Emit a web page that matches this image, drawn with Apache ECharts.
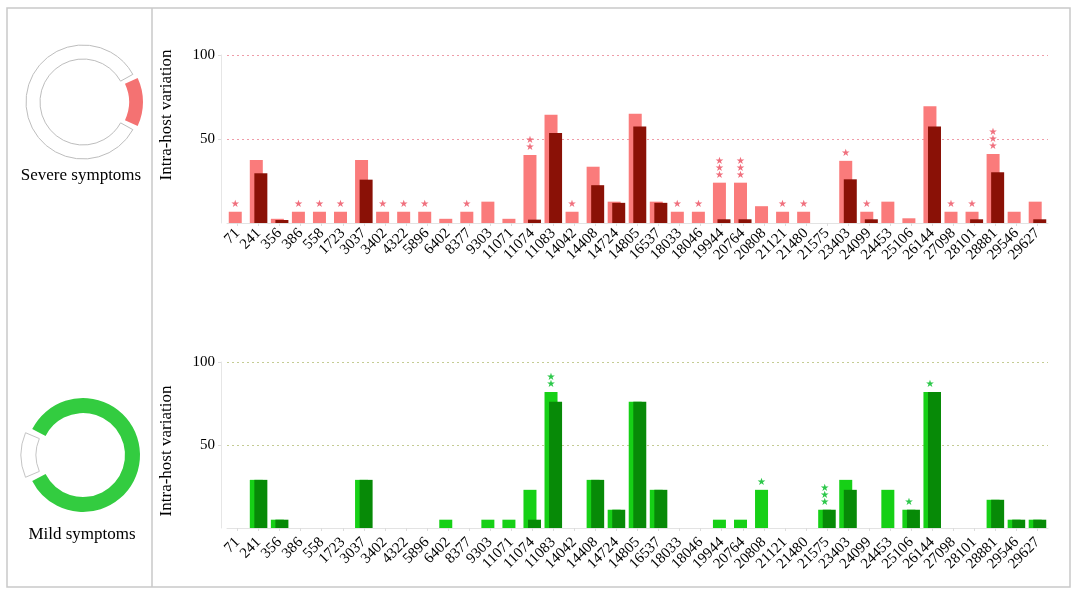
<!DOCTYPE html>
<html>
<head>
<meta charset="utf-8">
<script src="https://cdn.jsdelivr.net/npm/echarts@6/dist/echarts.min.js"></script>
<style>
  html, body { margin: 0; padding: 0; background: #fff; }
  #chart { width: 1074px; height: 594px; }
</style>
</head>
<body>
<div id="chart"></div>
<script>
// genome positions
const categories = ['71', '241', '356', '386', '558', '1723', '3037', '3402', '4322', '5896',
  '6402', '8377', '9303', '11071', '11074', '11083', '14042', '14408', '14724', '14805',
  '16537', '18033', '18046', '19944', '20764', '20808', '21121', '21480', '21575', '23403',
  '24099', '24453', '25106', '26144', '27098', '28101', '28881', '29546', '29627'];

// severe symptoms
const severeLight = [6.7, 37.5, 2.5, 6.7, 6.7, 6.7, 37.5, 6.7, 6.7, 6.7,
  2.5, 6.7, 12.7, 2.5, 40.5, 64.5, 6.7, 33.5, 12.7, 65,
  12.7, 6.7, 6.7, 24, 24, 10, 6.7, 6.7, 0, 37,
  6.7, 12.7, 2.8, 69.5, 6.7, 6.7, 41, 6.7, 12.7];
const severeDark = [0, 29.6, 1.8, 0, 0, 0, 25.8, 0, 0, 0,
  0, 0, 0, 0, 2, 53.5, 0, 22.5, 12, 57.5,
  12, 0, 0, 2.2, 2.2, 0, 0, 0, 0, 26,
  2.2, 0, 0, 57.5, 0, 2.2, 30.2, 0, 2.2];
const severeStars = [1, 0, 0, 1, 1, 1, 0, 1, 1, 1,
  0, 1, 0, 0, 2, 0, 1, 0, 0, 0,
  0, 1, 1, 3, 3, 0, 1, 1, 0, 1,
  1, 0, 0, 0, 1, 1, 3, 0, 0];

// mild symptoms
const mildLight = [0, 29, 5, 0, 0, 0, 29, 0, 0, 0,
  5, 0, 5, 5, 23, 82, 0, 29, 11, 76,
  23, 0, 0, 5, 5, 23, 0, 0, 11, 29,
  0, 23, 11, 82, 0, 0, 17, 5, 5];
const mildDark = [0, 29, 5, 0, 0, 0, 29, 0, 0, 0,
  0, 0, 0, 0, 5, 76, 0, 29, 11, 76,
  23, 0, 0, 0, 0, 0, 0, 0, 11, 23,
  0, 0, 11, 82, 0, 0, 17, 5, 5];
const mildStars = [0, 0, 0, 0, 0, 0, 0, 0, 0, 0,
  0, 0, 0, 0, 0, 2, 0, 0, 0, 0,
  0, 0, 0, 0, 0, 1, 0, 0, 3, 0,
  0, 0, 1, 1, 0, 0, 0, 0, 0];

const yTicks = [0, 50, 100];

const serif = 'Liberation Serif';

function starLabel(stars, color) {
  return {
    show: true,
    position: 'top',
    distance: 4,
    fontFamily: 'DejaVu Sans',
    fontSize: 10,
    lineHeight: 7,
    color: color,
    formatter: p => stars[p.dataIndex] ? Array(stars[p.dataIndex]).fill('★').join('\n') : ''
  };
}

function xAxis(gridIndex, margin) {
  return {
    type: 'category',
    gridIndex: gridIndex,
    data: categories,
    axisLine: { lineStyle: { color: '#e3e3e3', width: 1 } },
    axisTick: { show: true, alignWithLabel: true, length: 3, lineStyle: { color: '#dcdcdc' } },
    axisLabel: { rotate: 45, interval: 0, margin: margin, color: '#000', fontFamily: serif, fontSize: 15 }
  };
}

function yAxis(gridIndex, gridColor) {
  return {
    type: 'value',
    gridIndex: gridIndex,
    min: yTicks[0],
    max: yTicks[yTicks.length - 1],
    interval: yTicks[1] - yTicks[0],
    offset: 6,
    axisLine: { show: true, lineStyle: { color: '#e6e6e6' } },
    axisTick: { show: true, length: 3, lineStyle: { color: '#dcdcdc' } },
    axisLabel: { showMinLabel: false, color: '#000', fontFamily: serif, fontSize: 15, margin: 6 },
    splitLine: { show: true, lineStyle: { type: [2, 3], color: gridColor, width: 1.2 } }
  };
}

const chart = echarts.init(document.getElementById('chart'));

chart.setOption({
  animation: false,
  grid: [
    { left: 227, right: 26, top: 55, height: 168 },
    { left: 227, right: 26, top: 362, height: 166 }
  ],
  xAxis: [xAxis(0, 8), xAxis(1, 12)],
  yAxis: [yAxis(0, '#ef9ca8'), yAxis(1, '#c4cc94')],
  graphic: [
    { type: 'rect', shape: { x: 7, y: 8, width: 1063, height: 579 },
      style: { fill: 'none', stroke: '#c9c9c9', lineWidth: 1.5 }, z: -1 },
    { type: 'line', shape: { x1: 152, y1: 8, x2: 152, y2: 587 },
      style: { stroke: '#c9c9c9', lineWidth: 1.5 } },
    { type: 'text', x: 81, y: 176, style: { text: 'Severe symptoms', font: '17px "Liberation Serif"',
      fill: '#000', textAlign: 'center', textVerticalAlign: 'middle' } },
    { type: 'text', x: 82, y: 535, style: { text: 'Mild symptoms', font: '17px "Liberation Serif"',
      fill: '#000', textAlign: 'center', textVerticalAlign: 'middle' } },
    { type: 'text', x: 167, y: 115, rotation: Math.PI / 2, style: { text: 'Intra-host variation',
      font: '17px "Liberation Serif"', fill: '#000', textAlign: 'center', textVerticalAlign: 'middle' } },
    { type: 'text', x: 167, y: 451, rotation: Math.PI / 2, style: { text: 'Intra-host variation',
      font: '17px "Liberation Serif"', fill: '#000', textAlign: 'center', textVerticalAlign: 'middle' } }
  ],
  series: [
    { type: 'bar', xAxisIndex: 0, yAxisIndex: 0, data: severeLight, barWidth: 13, barGap: '-65%',
      itemStyle: { color: '#fa7b7b' }, label: starLabel(severeStars, '#f0707e') },
    { type: 'bar', xAxisIndex: 0, yAxisIndex: 0, data: severeDark, barWidth: 13, barGap: '-65%',
      itemStyle: { color: '#8a1106' } },
    { type: 'bar', xAxisIndex: 1, yAxisIndex: 1, data: mildLight, barWidth: 13, barGap: '-65%',
      itemStyle: { color: '#16d016' }, label: starLabel(mildStars, '#2cc84a') },
    { type: 'bar', xAxisIndex: 1, yAxisIndex: 1, data: mildDark, barWidth: 13, barGap: '-65%',
      itemStyle: { color: '#078a07' } },
    { type: 'pie', center: [83, 102], radius: [43, 57], startAngle: 27, padAngle: 4,
      selectedMode: 'single', selectedOffset: 3, silent: true, label: { show: false }, labelLine: { show: false },
      data: [
        { value: 54, selected: true, itemStyle: { color: '#f47272' } },
        { value: 306, itemStyle: { color: '#fff', borderColor: '#bdbdbd', borderWidth: 1 } }
      ] },
    { type: 'pie', center: [83, 455], radius: [42, 57], startAngle: 205, padAngle: 4,
      selectedMode: 'single', selectedOffset: 5, silent: true, label: { show: false }, labelLine: { show: false },
      data: [
        { value: 50, selected: true, itemStyle: { color: '#fff', borderColor: '#c4c4c4', borderWidth: 1 } },
        { value: 310, itemStyle: { color: '#33cc40' } }
      ] }
  ]
});
</script>
</body>
</html>
